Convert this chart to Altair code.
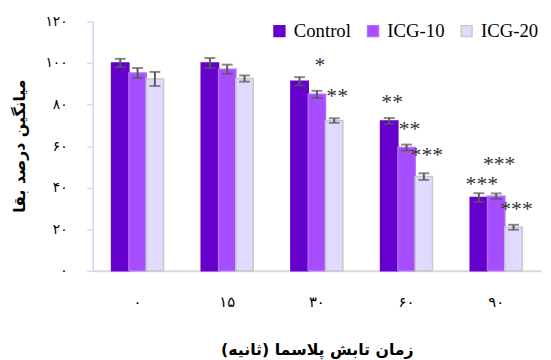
import altair as alt
import pandas as pd

groups = ["۰", "۱۵", "۳۰", "۶۰", "۹۰"]
series = ["Control", "ICG-10", "ICG-20"]
control = [100.0, 100.0, 91.2, 72.1, 35.2]
icg10 = [95.2, 97.0, 84.9, 59.3, 35.9]
icg20 = [92.3, 92.5, 72.3, 45.3, 20.9]
err_control = [2.0, 2.4, 2.0, 1.4, 2.1]
err_icg10 = [2.4, 2.2, 1.7, 1.4, 1.3]
err_icg20 = [3.4, 1.5, 1.1, 1.6, 1.2]

y_ticks = [0, 20, 40, 60, 80, 100, 120]
y_tick_labels = ["۰", "۲۰", "۴۰", "۶۰", "۸۰", "۱۰۰", "۱۲۰"]

sig_groups = ["۳۰", "۳۰", "۶۰", "۶۰", "۶۰", "۹۰", "۹۰", "۹۰"]
sig_series = ["ICG-10", "ICG-20", "Control", "ICG-10", "ICG-20", "Control", "ICG-10", "ICG-20"]
sig_labels = ["*", "**", "**", "**", "***", "***", "***", "***"]
sig_y = [99.3, 84.6, 81.8, 68.5, 56.2, 42.4, 51.9, 30.1]

colors = ["#6600CC", "#A64DFF", "#E0DAFF"]
strokes = ["#6600CC", "#B36BFF", "#C8C8C8"]

rows = []
for vals, errs, s in [(control, err_control, "Control"), (icg10, err_icg10, "ICG-10"), (icg20, err_icg20, "ICG-20")]:
    for g, v, e in zip(groups, vals, errs):
        rows.append({"group": g, "series": s, "value": v, "lo": v - e, "hi": v + e})
df = pd.DataFrame(rows)
sig_df = pd.DataFrame({"group": sig_groups, "series": sig_series, "label": sig_labels, "y": sig_y})

label_expr = "[" + ",".join("'%s'" % s for s in y_tick_labels) + "][round(datum.value/20)]"

x_enc = alt.X("group:N", sort=groups,
              scale=alt.Scale(paddingInner=0.42, paddingOuter=0.21),
              axis=alt.Axis(title="زمان تابش پلاسما (ثانیه)", labelAngle=0, tickSize=0,
                            labelPadding=24, labelFontSize=15, labelFont="DejaVu Sans",
                            labelColor="#000000",
                            titleFont="DejaVu Sans", titleFontSize=16, titleFontWeight="bold",
                            titlePadding=33, titleColor="#000000",
                            domainColor="#D9D9D9", domainWidth=2))
xo_enc = alt.XOffset("series:N", sort=series, scale=alt.Scale(paddingInner=0, paddingOuter=0))

y_scale = alt.Scale(domain=[0, 120], nice=False)

bars = alt.Chart(df).mark_bar(strokeWidth=1.5).encode(
    x=x_enc,
    xOffset=xo_enc,
    y=alt.Y("value:Q", scale=y_scale,
            axis=alt.Axis(title="میانگین درصد بقا", values=y_ticks, labelExpr=label_expr,
                          grid=False, tickSize=6, tickColor="#D9D2F2", tickWidth=1.5,
                          domainColor="#D9D2F2", domainWidth=1.5,
                          labelPadding=20, labelFontSize=14, labelFont="DejaVu Sans",
                          labelColor="#000000",
                          titleFont="DejaVu Sans", titleFontSize=16, titleFontWeight="bold",
                          titleX=-74, titleY=126, titleAngle=270, titleAlign="center",
                          titleBaseline="middle", titleColor="#000000")),
    fill=alt.Fill("series:N", sort=series, scale=alt.Scale(domain=series, range=colors),
                  legend=alt.Legend(title=None, orient="none", legendX=180, legendY=0,
                                    direction="horizontal", symbolType="square",
                                    symbolSize=121, labelFont="Liberation Serif",
                                    labelFontSize=19, labelColor="#000000",
                                    labelOffset=5, columnPadding=12, symbolStrokeWidth=1.5)),
    stroke=alt.Stroke("series:N", sort=series, scale=alt.Scale(domain=series, range=strokes),
                      legend=None),
)

err_rule = alt.Chart(df).mark_rule(color="#595959", strokeWidth=2).encode(
    x=alt.X("group:N", sort=groups), xOffset=alt.XOffset("series:N", sort=series),
    y=alt.Y("lo:Q", scale=y_scale), y2="hi:Q")

cap_lo = alt.Chart(df).mark_tick(color="#595959", thickness=2, size=11, orient="horizontal").encode(
    x=alt.X("group:N", sort=groups), xOffset=alt.XOffset("series:N", sort=series),
    y=alt.Y("lo:Q", scale=y_scale))
cap_hi = alt.Chart(df).mark_tick(color="#595959", thickness=2, size=11, orient="horizontal").encode(
    x=alt.X("group:N", sort=groups), xOffset=alt.XOffset("series:N", sort=series),
    y=alt.Y("hi:Q", scale=y_scale))

stars = alt.Chart(sig_df).mark_text(font="Liberation Serif", fontSize=22, color="#333333",
                                    baseline="middle", dy=1, dx=3).encode(
    x=alt.X("group:N", sort=groups), xOffset=alt.XOffset("series:N", sort=series),
    y=alt.Y("y:Q", scale=y_scale), text="label:N")

chart = alt.layer(bars, err_rule, cap_lo, cap_hi, stars).properties(
    width=455, height=253,
    autosize=alt.AutoSizeParams(type="none"),
    padding={"left": 86, "top": 11, "right": 2, "bottom": 88},
).configure_view(stroke=None)

chart.save("out.html", embed_options={"renderer": "svg", "actions": False})
